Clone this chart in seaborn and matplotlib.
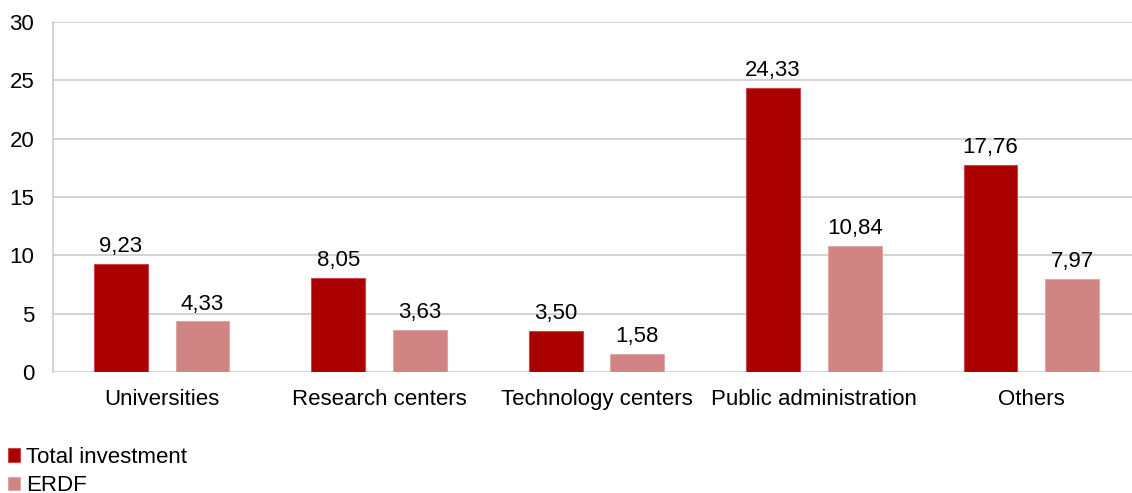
import matplotlib
matplotlib.use("Agg")
import matplotlib.pyplot as plt
from matplotlib.patches import Patch
import seaborn as sns
import pandas as pd

# Investment by beneficiary type (million EUR)
categories = ["Universities", "Research centers", "Technology centers",
              "Public administration", "Others"]
total_investment = [9.23, 8.05, 3.50, 24.33, 17.76]
erdf = [4.33, 3.63, 1.58, 10.84, 7.97]
series_names = ["Total investment", "ERDF"]
y_ticks = [0, 5, 10, 15, 20, 25, 30]

colors = {"Total investment": "#AA0000", "ERDF": "#D08484"}
edge_colors = {"Total investment": "#C84848", "ERDF": "#E0A8A8"}

df = pd.DataFrame({
    "category": categories * 2,
    "value": total_investment + erdf,
    "series": [series_names[0]] * len(categories) + [series_names[1]] * len(categories),
})

sns.set_theme(style="white")
plt.rcParams["font.family"] = ["Liberation Sans", "DejaVu Sans"]
plt.rcParams["text.color"] = "#000000"

W, H, DPI = 1132, 493, 100
fig = plt.figure(figsize=(W / DPI, H / DPI), dpi=DPI)
ax = fig.add_axes([53 / W, 1 - 372 / H, (1140 - 53) / W, 350 / H])

sns.barplot(data=df, x="category", y="value", hue="series", order=categories,
            hue_order=series_names, palette=colors, width=0.75, gap=0.34,
            saturation=1, legend=False, ax=ax)

# Thin lighter outline on each bar
for container, name in zip(ax.containers, series_names):
    for bar in container:
        bar.set_edgecolor(edge_colors[name])
        bar.set_linewidth(0.8)

# Value labels with comma decimal separator
for container, values in zip(ax.containers, [total_investment, erdf]):
    labels = [f"{v:.2f}".replace(".", ",") for v in values]
    ax.bar_label(container, labels=labels, padding=5, fontsize=16, color="#000000")

ax.set_ylim(0, 30)
ax.set_yticks(y_ticks)
ax.set_xlim(-0.5, len(categories) - 0.5)
ax.yaxis.grid(True, color="#C8C8C8", linewidth=1.1)
ax.set_axisbelow(True)
for side in ["top", "right", "bottom"]:
    ax.spines[side].set_visible(False)
ax.spines["left"].set_color("#C8C8C8")
ax.spines["left"].set_linewidth(1.1)
ax.tick_params(axis="y", length=0, pad=13.5, labelsize=16, labelcolor="#000000")
ax.tick_params(axis="x", length=0, pad=12.5, labelsize=16, labelcolor="#000000")
ax.set_xlabel("")
ax.set_ylabel("")

handles = [Patch(facecolor=colors[n], edgecolor=edge_colors[n], linewidth=0.8) for n in series_names]
fig.legend(handles, series_names, loc="upper left", bbox_to_anchor=(8 / W, 1 - 447 / H),
           frameon=False, fontsize=16, handlelength=0.55, handleheight=0.55,
           handletextpad=0.25, labelspacing=0.32, borderpad=0, borderaxespad=0,
           labelcolor="#000000")

fig.savefig("out.png", dpi=DPI)
